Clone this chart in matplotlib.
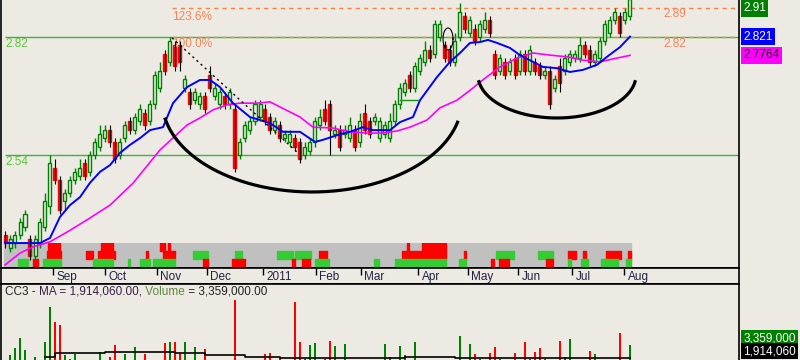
import numpy as np
import matplotlib.pyplot as plt
from matplotlib.transforms import blended_transform_factory

plt.rcParams['font.family'] = ['Liberation Sans', 'DejaVu Sans']

# daily-ish bars (2 sessions per bar), Aug 2010 - Aug 2011
opens = [2.35, 2.32, 2.33, 2.35, 2.37, 2.34, 2.30, 2.33, 2.37, 2.42,
         2.51, 2.48, 2.43, 2.45, 2.48, 2.49, 2.52, 2.50, 2.54, 2.56,
         2.58, 2.60, 2.57, 2.54, 2.58, 2.62, 2.60, 2.62, 2.64, 2.62,
         2.66, 2.70, 2.78, 2.76, 2.80, 2.80, 2.70, 2.69, 2.67, 2.66,
         2.68, 2.73, 2.68, 2.66, 2.68, 2.66, 2.65, 2.54, 2.58, 2.60,
         2.62, 2.63, 2.65, 2.63, 2.60, 2.61, 2.58, 2.57, 2.58, 2.57,
         2.54, 2.55, 2.57, 2.61, 2.65, 2.66, 2.59, 2.60, 2.59, 2.58,
         2.60, 2.57, 2.64, 2.62, 2.62, 2.58, 2.59, 2.58, 2.62, 2.66,
         2.69, 2.73, 2.70, 2.74, 2.76, 2.79, 2.78, 2.82, 2.80, 2.79,
         2.76, 2.82, 2.87, 2.83, 2.84, 2.82, 2.84, 2.86, 2.78, 2.74,
         2.76, 2.74, 2.77, 2.74, 2.78, 2.74, 2.76, 2.75, 2.73, 2.74,
         2.70, 2.75, 2.74, 2.76, 2.77, 2.77, 2.80, 2.79, 2.76, 2.77,
         2.81, 2.83, 2.86, 2.87, 2.86, 2.87]
closes = [2.33, 2.34, 2.35, 2.38, 2.40, 2.30, 2.34, 2.38, 2.43, 2.52,
          2.48, 2.41, 2.45, 2.48, 2.50, 2.51, 2.49, 2.54, 2.57, 2.59,
          2.60, 2.57, 2.53, 2.57, 2.61, 2.60, 2.63, 2.65, 2.61, 2.66,
          2.73, 2.74, 2.74, 2.81, 2.75, 2.76, 2.72, 2.66, 2.69, 2.68,
          2.65, 2.70, 2.70, 2.69, 2.66, 2.69, 2.51, 2.57, 2.61, 2.62,
          2.66, 2.66, 2.62, 2.60, 2.62, 2.58, 2.59, 2.59, 2.56, 2.53,
          2.56, 2.57, 2.62, 2.63, 2.62, 2.60, 2.60, 2.56, 2.60, 2.61,
          2.56, 2.62, 2.60, 2.59, 2.63, 2.62, 2.61, 2.62, 2.66, 2.70,
          2.71, 2.70, 2.75, 2.77, 2.79, 2.77, 2.85, 2.85, 2.77, 2.76,
          2.81, 2.88, 2.84, 2.86, 2.81, 2.85, 2.86, 2.83, 2.73, 2.77,
          2.73, 2.76, 2.73, 2.78, 2.74, 2.79, 2.74, 2.73, 2.74, 2.66,
          2.72, 2.71, 2.77, 2.78, 2.78, 2.80, 2.78, 2.76, 2.78, 2.81,
          2.85, 2.86, 2.88, 2.83, 2.88, 2.91]
highs = [2.36, 2.35, 2.36, 2.39, 2.41, 2.35, 2.35, 2.39, 2.45, 2.54,
         2.53, 2.49, 2.46, 2.49, 2.51, 2.53, 2.53, 2.55, 2.58, 2.61,
         2.61, 2.61, 2.58, 2.58, 2.62, 2.63, 2.64, 2.66, 2.65, 2.67,
         2.74, 2.76, 2.79, 2.82, 2.81, 2.81, 2.73, 2.70, 2.70, 2.69,
         2.69, 2.75, 2.71, 2.70, 2.69, 2.70, 2.66, 2.58, 2.62, 2.63,
         2.67, 2.67, 2.66, 2.64, 2.63, 2.62, 2.60, 2.60, 2.59, 2.58,
         2.57, 2.58, 2.63, 2.65, 2.67, 2.67, 2.61, 2.61, 2.61, 2.63,
         2.61, 2.64, 2.66, 2.63, 2.64, 2.63, 2.62, 2.64, 2.67, 2.71,
         2.72, 2.74, 2.76, 2.78, 2.81, 2.80, 2.86, 2.86, 2.81, 2.80,
         2.83, 2.90, 2.88, 2.87, 2.85, 2.86, 2.88, 2.87, 2.79, 2.78,
         2.77, 2.77, 2.78, 2.79, 2.79, 2.80, 2.77, 2.76, 2.75, 2.75,
         2.73, 2.77, 2.78, 2.79, 2.79, 2.82, 2.81, 2.80, 2.79, 2.82,
         2.86, 2.87, 2.89, 2.88, 2.89, 2.92]
lows = [2.32, 2.31, 2.32, 2.34, 2.36, 2.29, 2.29, 2.32, 2.36, 2.40,
        2.47, 2.40, 2.41, 2.44, 2.47, 2.48, 2.48, 2.49, 2.53, 2.55,
        2.57, 2.56, 2.52, 2.53, 2.57, 2.59, 2.59, 2.61, 2.60, 2.61,
        2.65, 2.69, 2.73, 2.75, 2.74, 2.74, 2.69, 2.65, 2.66, 2.65,
        2.64, 2.69, 2.67, 2.65, 2.65, 2.65, 2.50, 2.53, 2.57, 2.59,
        2.61, 2.62, 2.61, 2.59, 2.59, 2.57, 2.57, 2.56, 2.55, 2.52,
        2.53, 2.54, 2.56, 2.60, 2.61, 2.54, 2.58, 2.55, 2.58, 2.57,
        2.55, 2.56, 2.59, 2.58, 2.61, 2.57, 2.58, 2.57, 2.61, 2.65,
        2.68, 2.69, 2.69, 2.73, 2.75, 2.76, 2.77, 2.81, 2.76, 2.75,
        2.75, 2.81, 2.83, 2.82, 2.80, 2.81, 2.83, 2.82, 2.72, 2.73,
        2.72, 2.73, 2.72, 2.73, 2.73, 2.73, 2.73, 2.72, 2.72, 2.65,
        2.69, 2.69, 2.73, 2.75, 2.76, 2.76, 2.77, 2.75, 2.75, 2.76,
        2.80, 2.82, 2.85, 2.82, 2.85, 2.86]
# volume in millions
volume = [1.0, 2.2, 3.0, 4.1, 2.8, 1.5, 2.0, 1.7, 3.7, 7.6,
          5.9, 5.6, 2.2, 1.8, 2.3, 1.0, 1.5, 1.0, 1.2, 2.6,
          1.0, 2.0, 3.3, 1.2, 2.3, 1.0, 3.1, 1.0, 2.3, 1.6,
          1.0, 1.0, 3.6, 3.7, 3.7, 2.4, 3.7, 1.0, 3.1, 1.5,
          2.9, 1.0, 1.0, 1.0, 1.0, 1.0, 8.3, 1.5, 1.0, 1.0,
          1.0, 1.0, 2.3, 2.4, 1.5, 2.0, 1.0, 1.0, 8.1, 3.7,
          1.8, 3.3, 3.6, 1.0, 1.8, 3.8, 3.2, 1.0, 3.4, 1.0,
          1.0, 1.0, 1.0, 1.0, 1.5, 1.0, 3.4, 2.0, 1.0, 3.2,
          2.2, 1.0, 3.7, 1.0, 1.0, 1.0, 1.0, 1.3, 1.0, 1.0,
          1.0, 4.3, 1.0, 3.4, 2.3, 1.8, 1.6, 2.5, 3.1, 1.8,
          1.0, 1.0, 2.4, 1.0, 3.7, 1.8, 2.6, 3.0, 1.8, 1.0,
          1.0, 3.8, 2.0, 4.0, 1.0, 1.0, 1.0, 2.7, 2.3, 1.0,
          1.2, 1.0, 1.0, 4.7, 1.0, 3.359]
vol_ma_x = [8, 10, 20, 30, 34, 40, 48, 55, 60, 70, 80, 90, 100, 110, 125]
vol_ma = [2.0, 2.5, 2.55, 2.55, 2.5, 2.2, 2.0, 1.9, 1.9, 1.85, 1.95, 1.9, 1.85, 1.85, 1.914]

# moving averages (bar position, price)
ma_fast_x = [0, 7, 9, 11, 13, 15, 17, 19, 21, 23, 25, 27, 29, 31.6, 33.6, 36.4, 39, 41, 43,
             45.6, 49, 52.4, 53.6, 55.6, 59, 62, 63.6, 66.4, 69, 71.6, 73.6, 77, 79, 81.6,
             83, 86.4, 89, 91, 93, 95, 96.6, 98.4, 101, 103, 105.6, 107.6, 110.4, 113,
             115.6, 118.4, 120.4, 123, 125]
ma_fast = [2.331, 2.331, 2.343, 2.393, 2.421, 2.440, 2.474, 2.500, 2.516, 2.545, 2.564,
           2.580, 2.599, 2.606, 2.663, 2.701, 2.718, 2.718, 2.701, 2.663, 2.630, 2.618,
           2.611, 2.595, 2.595, 2.571, 2.576, 2.587, 2.595, 2.606, 2.599, 2.599, 2.618,
           2.630, 2.670, 2.725, 2.761, 2.782, 2.806, 2.808, 2.813, 2.806, 2.794, 2.777,
           2.761, 2.749, 2.746, 2.737, 2.742, 2.754, 2.773, 2.796, 2.821]
ma_slow_x = [0, 3, 5.6, 9, 12.4, 16.4, 21, 25.6, 31, 36.4, 39, 41.6, 44.4, 47, 50.4, 53,
             59, 61.6, 65.6, 69, 72.4, 75.6, 78.4, 81, 84.4, 87, 90.4, 93.6, 95, 99,
             102.4, 105.6, 109, 112.4, 115.6, 119, 121.6, 125]
ma_slow = [2.279, 2.307, 2.322, 2.334, 2.357, 2.386, 2.421, 2.473, 2.552, 2.611, 2.628,
           2.647, 2.659, 2.663, 2.663, 2.666, 2.630, 2.606, 2.604, 2.595, 2.592, 2.592,
           2.597, 2.606, 2.623, 2.652, 2.670, 2.699, 2.713, 2.749, 2.770, 2.782, 2.777,
           2.773, 2.765, 2.761, 2.768, 2.7764]

# indicator strip: (start, end) bar spans per row
top_red = [(8.6, 11.0), (19.2, 21.6), (31.0, 32.0), (32.6, 33.0), (80.4, 80.8), (83.4, 88.2)]
mid_red = [(8.4, 11.2), (16.2, 17.6), (18.6, 22.0), (28.2, 28.6), (31.6, 34.0), (62.8, 64.4),
           (79.4, 88.2), (91.8, 92.2), (112.6, 114.2), (115.6, 116.2), (120.2, 123.2), (124.6, 125.2)]
mid_green = [(37.6, 40.6), (46.0, 47.4), (54.4, 57.6), (58.0, 61.2), (98.2, 101.8), (106.6, 109.6)]
bot_green = [(2.6, 4.6), (7.6, 11.2), (17.6, 21.6), (24.6, 25.0), (27.0, 29.0), (29.6, 34.0),
             (62.0, 64.8), (73.8, 74.8), (78.0, 88.2), (90.8, 92.2), (112.6, 113.2),
             (115.2, 116.6), (119.2, 122.6), (124.2, 125.2)]
bot_red = [(5.6, 6.6), (39.6, 40.6), (45.4, 48.0), (57.4, 58.0), (59.4, 61.0), (97.2, 97.8),
           (98.8, 100.8), (108.2, 109.6)]

month_pos = [9.6, 20.0, 30.4, 40.4, 51.6, 62.2, 71.2, 82.6, 92.6, 102.6, 113.4, 123.8]
month_lbl = ['Sep', 'Oct', 'Nov', 'Dec', '2011', 'Feb', 'Mar', 'Apr', 'May', 'Jun', 'Jul', 'Aug']

fib_start = 33.4
fib_100, fib_1236 = 2.82, 2.89
support_hi, support_lo = 2.82, 2.54

BG = '#EDEAE4'
W, H = 800.0, 360.0
XL = (-0.8, 146.8)


def px_rect(x0, y0, x1, y1):
    return [x0 / W, 1 - y1 / H, (x1 - x0) / W, (y1 - y0) / H]


fig = plt.figure(figsize=(8, 3.6), dpi=100, facecolor=BG)

# indicator strip (under the price panel)
ax_s = fig.add_axes(px_rect(1, 243, 739, 267))
ax_s.set_xlim(XL)
ax_s.set_ylim(0, 3)
ax_s.axis('off')
ax_s.broken_barh([(-0.2, 125.4)], (0, 3), color='#C0C0C0')
for spans, row, col in [(top_red, 2, '#FF0000'), (mid_red, 1, '#FF0000'), (mid_green, 1, '#33CC33'),
                        (bot_green, 0, '#33CC33'), (bot_red, 0, '#FF0000')]:
    ax_s.broken_barh([(a, b - a) for a, b in spans], (row, 1), color=col)

# price panel
ax = fig.add_axes(px_rect(1, 0, 739, 268))
ax.set_facecolor('none')
ax.set_xlim(XL)
ax.set_ylim(2.2718, 2.9078)
ax.set_xticks([])
ax.set_yticks([])
ax.spines['top'].set_visible(False)
for s in ['left', 'right', 'bottom']:
    ax.spines[s].set_linewidth(1.2)

ax.hlines(support_hi, 0, XL[1], color='#33BB33', lw=1)
ax.hlines(support_lo, 0, XL[1], color='#33BB33', lw=1)
ax.hlines(fib_100, fib_start, XL[1], color='#FF7F3F', lw=1, linestyles=(0, (3, 3)))
ax.hlines(fib_1236, fib_start, XL[1], color='#FF7F3F', lw=1, linestyles=(0, (3, 3)))

x = np.arange(len(closes))
o, c, h, l = map(np.array, (opens, closes, highs, lows))
up = c >= o
ax.vlines(x[up], l[up], h[up], color='#008000', lw=1, zorder=3)
ax.bar(x[up], (c - o)[up], bottom=o[up], width=0.6, facecolor=BG, edgecolor='#008000', lw=1, zorder=3)
ax.bar(x[~up], (o - c)[~up], bottom=c[~up], width=0.6, facecolor='#FF0000', edgecolor='#FF0000', lw=1, zorder=3)
ax.vlines(x[~up], l[~up], h[~up], color='black', lw=0.8, zorder=4)

ax.plot(ma_slow_x, ma_slow, color='#FF00FF', lw=1.2, zorder=5)
ax.plot(ma_fast_x, ma_fast, color='#0000FF', lw=1.4, zorder=5)

# hand drawn annotations
ax.plot([33.4, 58.4], [2.818, 2.547], color='black', lw=1, ls=(0, (1.5, 2.5)), zorder=6)
ax.plot([79, 82.6], [2.670, 2.670], color='#119911', lw=1, zorder=6)
for cx, cy, a, b, t1, t2, lw in [(61.4, 2.6705, 30.0, 0.2183, 192, 346, 2.3),
                                  (110.4, 2.7298, 15.8, 0.102, 189, 351, 2.3),
                                  (88.6, 2.8153, 1.0, 0.0261, 0, 360, 0.8)]:
    t = np.radians(np.linspace(t1, t2, 200))
    ax.plot(cx + a * np.cos(t), cy + b * np.sin(t), color='black', lw=lw, zorder=6)

ORANGE = '#F4875A'
GREEN_T = '#5CC83C'
ax.annotate('123.6%', (fib_start, fib_1236), xytext=(0, -6.5), textcoords='offset points',
            color=ORANGE, fontsize=8.5, va='center')
ax.annotate('100.0%', (fib_start, fib_100), xytext=(0, -5), textcoords='offset points',
            color=ORANGE, fontsize=8.5, va='center')
ax.annotate('2.89', (136.2, fib_1236), xytext=(0, -5), textcoords='offset points',
            color=ORANGE, fontsize=8.5, va='center', ha='right')
ax.annotate('2.82', (136.2, fib_100), xytext=(0, -5), textcoords='offset points',
            color=ORANGE, fontsize=8.5, va='center', ha='right')
ax.annotate('2.82', (0, support_hi), xytext=(0, -5), textcoords='offset points',
            color=GREEN_T, fontsize=8.5, va='center')
ax.annotate('2.54', (0, support_lo), xytext=(0, -5), textcoords='offset points',
            color=GREEN_T, fontsize=8.5, va='center')

# last-value tags on the price scale
tr = blended_transform_factory(ax.transAxes, ax.transData)
ax.text(1.0055, 0.992, '2.91', transform=ax.transAxes, color='white', fontsize=8.5,
        va='top', ha='left', clip_on=False,
        bbox=dict(boxstyle='square,pad=0.2', fc='#008000', ec='none'))
for val, txt, fc, tc in [(ma_fast[-1], '2.821', '#0000FF', 'white'),
                         (ma_slow[-1], '2.7764', '#FF00FF', 'black')]:
    ax.text(1.0055, val, txt, transform=tr, color=tc, fontsize=8.5, va='center', ha='left',
            clip_on=False, bbox=dict(boxstyle='square,pad=0.2', fc=fc, ec='none'))

# date band
ax_b = fig.add_axes(px_rect(1, 268, 739, 284))
ax_b.set_facecolor(BG)
ax_b.set_xlim(XL)
ax_b.set_ylim(0, 1)
ax_b.set_yticks([])
ax_b.set_xticks(month_pos)
ax_b.tick_params(axis='x', direction='in', top=True, bottom=False, labelbottom=False,
                 length=5, width=1)
for s in ax_b.spines.values():
    s.set_linewidth(1.2)
for p, lbl in zip(month_pos, month_lbl):
    ax_b.text(p + 0.7, 0.45, lbl, fontsize=8.5, va='center', ha='left', color='#222244')

# volume panel (runs off the bottom of the picture)
ax_v = fig.add_axes(px_rect(1, 284, 739, 375))
ax_v.set_facecolor(BG)
ax_v.set_xlim(XL)
ax_v.set_ylim(0, 91 / 9)
ax_v.set_xticks([])
ax_v.set_yticks([])
for s in ax_v.spines.values():
    s.set_linewidth(1.2)
vcol = np.where(up, '#008000', '#FF0000')
ax_v.bar(x, volume, width=0.4, color=vcol)
ax_v.plot(vol_ma_x, vol_ma, color='black', lw=1.2, drawstyle='steps-post')

t0 = ax_v.text(4 / 738, 1 - 8 / 91, 'CC3 - ', transform=ax_v.transAxes, fontsize=8.5,
               va='center', ha='left', color='#222222')
prev = t0
for seg, col in [('MA = 1,914,060.00,', '#3A1F4A'), (' Volume', '#5E8A3C'), (' = 3,359,000.00', '#222222')]:
    prev = ax_v.annotate(seg, xy=(1, 0), xycoords=prev, va='bottom', ha='left',
                         fontsize=8.5, color=col)

trv = blended_transform_factory(ax_v.transAxes, ax_v.transData)
ax_v.text(1.0055, volume[-1], '3,359,000', transform=trv, color='white', fontsize=8.5,
          va='bottom', ha='left', clip_on=False,
          bbox=dict(boxstyle='square,pad=0.2', fc='#008000', ec='none'))
# MA tag sits just under the volume tag so it stays inside the picture
ax_v.text(1.0055, 1 - 73 / 91, '1,914,060', transform=ax_v.transAxes, color='white',
          fontsize=8.5, va='bottom', ha='left', clip_on=False,
          bbox=dict(boxstyle='square,pad=0.2', fc='black', ec='none'))

fig.savefig('out.png', dpi=100, facecolor=BG)
